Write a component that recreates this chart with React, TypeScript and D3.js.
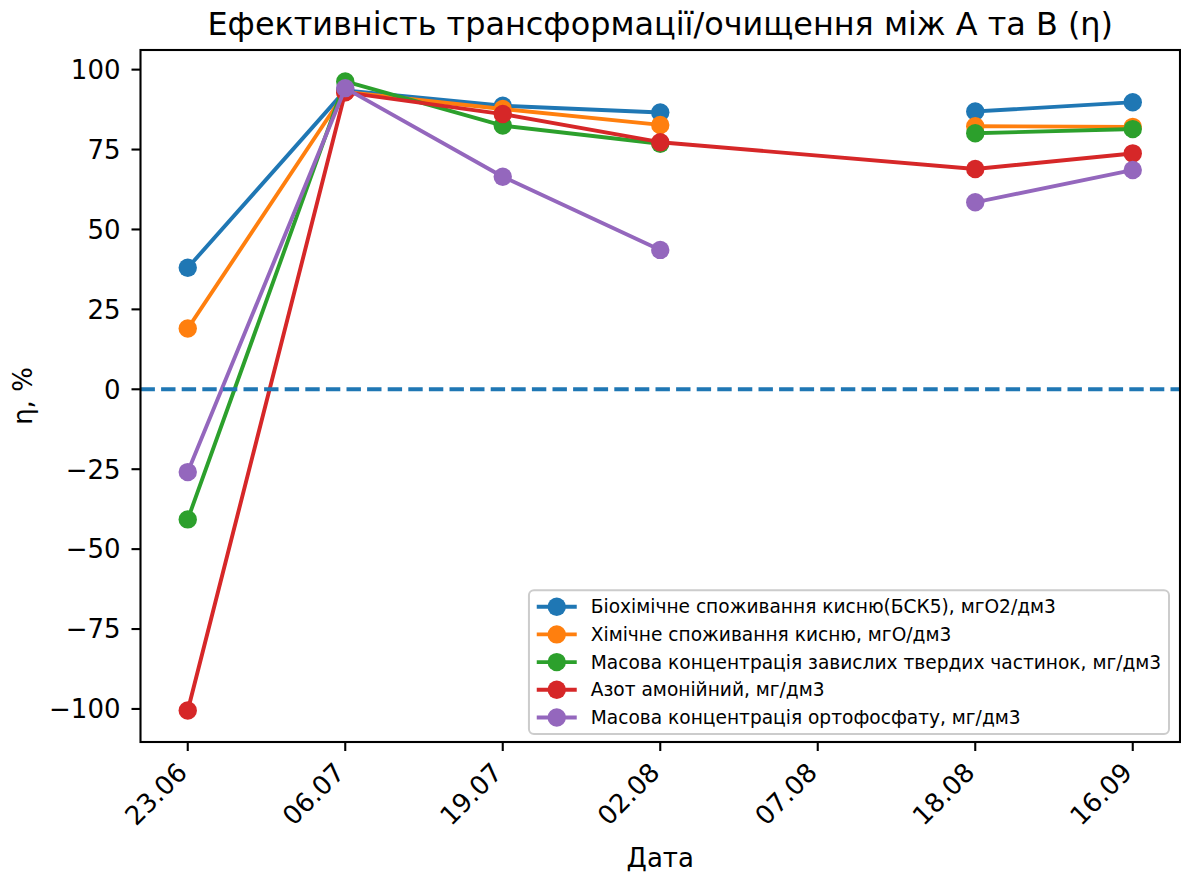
import React, { useRef, useEffect } from 'react';
import * as d3 from 'd3';

// dates on the x axis (07.08 has no values for most series)
const dates = ['23.06', '06.07', '19.07', '02.08', '07.08', '18.08', '16.09'];

const seriesNames = [
    'Біохімічне споживання кисню(БСК5), мгО2/дм3',
    'Хімічне споживання кисню, мгО/дм3',
    'Масова концентрація завислих твердих частинок, мг/дм3',
    'Азот амонійний, мг/дм3',
    'Масова концентрація ортофосфату, мг/дм3',
];

const bod = [38.0, 93.5, 88.7, 86.6, null, 86.9, 89.8];
const cod = [19.0, 93.0, 87.7, 82.7, null, 82.3, 82.1];
const solids = [-40.7, 96.3, 82.5, 76.8, null, 80.1, 81.4];
const ammonia = [-100.5, 92.9, 86.1, 77.3, null, 68.9, 73.8];
const phosphate = [-25.9, 94.2, 66.5, 43.6, null, 58.5, 68.6];

const seriesValues = [bod, cod, solids, ammonia, phosphate];
// the ammonia line is drawn straight over the missing date, the others break there
const connectGaps = [false, false, false, true, false];

const colors = ['#1f77b4', '#ff7f0e', '#2ca02c', '#d62728', '#9467bd'];
const yTicks = [-100, -75, -50, -25, 0, 25, 50, 75, 100];

const titleText = 'Ефективність трансформації/очищення між А та В (η)';
const xLabel = 'Дата';
const yLabel = 'η, %';

const FONT = '"DejaVu Sans", "Noto Sans", sans-serif';

const App = ({ width = 1181, height = 874 }) => {
    const svgRef = useRef(null);

    useEffect(() => {
        const svg = d3.select(svgRef.current);
        svg.selectAll('*').remove();

        const left = 140.5, right = 1180, top = 50, bottom = 742;
        const lw = 3.9;

        const all = seriesValues.flat().filter((v) => v != null);
        const lo = d3.min(all), hi = d3.max(all);
        const m = (hi - lo) * 0.05;

        const x = d3.scalePoint().domain(dates).range([left, right]).padding(0.3);
        const y = d3.scaleLinear().domain([lo - m, hi + m]).range([bottom, top]);

        svg.append('rect').attr('width', width).attr('height', height).attr('fill', 'white');

        const plot = svg.append('g');

        // series
        seriesValues.forEach((vals, i) => {
            const pts = vals.map((v, j) => ({ d: dates[j], v }));
            const used = connectGaps[i] ? pts.filter((p) => p.v != null) : pts;
            const line = d3.line()
                .defined((p) => p.v != null)
                .x((p) => x(p.d))
                .y((p) => y(p.v));
            const g = plot.append('g');
            g.append('path')
                .attr('d', line(used))
                .attr('fill', 'none')
                .attr('stroke', colors[i])
                .attr('stroke-width', lw)
                .attr('stroke-linejoin', 'round')
                .attr('stroke-linecap', 'square');
            g.selectAll('circle')
                .data(pts.filter((p) => p.v != null))
                .enter()
                .append('circle')
                .attr('cx', (p) => x(p.d))
                .attr('cy', (p) => y(p.v))
                .attr('r', 9.2)
                .attr('fill', colors[i]);
        });

        // zero line
        plot.append('line')
            .attr('x1', left).attr('x2', right)
            .attr('y1', y(0)).attr('y2', y(0))
            .attr('stroke', '#1f77b4')
            .attr('stroke-width', lw)
            .attr('stroke-dasharray', '14.4,6.2');

        // frame
        svg.append('rect')
            .attr('x', left).attr('y', top)
            .attr('width', right - left).attr('height', bottom - top)
            .attr('fill', 'none').attr('stroke', 'black').attr('stroke-width', 2.1);

        // y axis
        const yAxis = svg.append('g').attr('font-family', FONT).attr('font-size', 26);
        yTicks.forEach((t) => {
            yAxis.append('line')
                .attr('x1', left - 9).attr('x2', left)
                .attr('y1', y(t)).attr('y2', y(t))
                .attr('stroke', 'black').attr('stroke-width', 2.1);
            yAxis.append('text')
                .attr('x', left - 20).attr('y', y(t))
                .attr('dy', '0.36em')
                .attr('text-anchor', 'end')
                .text(d3.format('d')(t));
        });

        // x axis
        const xAxis = svg.append('g').attr('font-family', FONT).attr('font-size', 26);
        dates.forEach((d) => {
            const px = x(d);
            xAxis.append('line')
                .attr('x1', px).attr('x2', px)
                .attr('y1', bottom).attr('y2', bottom + 9)
                .attr('stroke', 'black').attr('stroke-width', 2.1);
            xAxis.append('text')
                .attr('transform', `translate(${px + 1},${bottom + 32}) rotate(-45)`)
                .attr('text-anchor', 'end')
                .text(d);
        });

        // labels
        svg.append('text')
            .attr('x', (left + right) / 2).attr('y', 34.5)
            .attr('text-anchor', 'middle')
            .attr('font-family', FONT).attr('font-size', 31.9)
            .text(titleText);
        svg.append('text')
            .attr('x', (left + right) / 2).attr('y', 866.5)
            .attr('text-anchor', 'middle')
            .attr('font-family', FONT).attr('font-size', 26)
            .text(xLabel);
        svg.append('text')
            .attr('transform', `translate(32,${(top + bottom) / 2}) rotate(-90)`)
            .attr('text-anchor', 'middle')
            .attr('font-family', FONT).attr('font-size', 26)
            .text(yLabel);

        // legend, lower right
        const fs = 18.6;
        const pad = 7.8;
        const rowH = 27.7;
        const handleW = 40;
        const textGap = 14;
        const legRight = 1169, legBottom = 734;
        const boxH = 2 * pad + (seriesNames.length - 1) * rowH + 17.4;
        const legTop = legBottom - boxH;
        const legend = svg.append('g').attr('font-family', FONT).attr('font-size', fs);
        const frame = legend.append('rect');
        const texts = [];
        seriesNames.forEach((name, i) => {
            const cy = legTop + pad + 8.7 + i * rowH;
            const t = legend.append('text')
                .attr('y', cy).attr('dy', '0.36em')
                .text(name);
            texts.push({ t, cy, i });
        });
        const maxW = d3.max(texts, (o) => o.t.node().getComputedTextLength());
        const legLeft = legRight - (pad + handleW + textGap + maxW + pad);
        frame
            .attr('x', legLeft).attr('y', legTop)
            .attr('width', legRight - legLeft).attr('height', boxH)
            .attr('rx', 5)
            .attr('fill', 'white').attr('fill-opacity', 0.8)
            .attr('stroke', '#cccccc').attr('stroke-width', 2);
        texts.forEach(({ t, cy, i }) => {
            const hx = legLeft + pad;
            t.attr('x', hx + handleW + textGap);
            legend.append('line')
                .attr('x1', hx).attr('x2', hx + handleW)
                .attr('y1', cy).attr('y2', cy)
                .attr('stroke', colors[i]).attr('stroke-width', lw);
            legend.append('circle')
                .attr('cx', hx + handleW / 2).attr('cy', cy)
                .attr('r', 9.2).attr('fill', colors[i]);
        });
    }, [width, height]);

    return (
        <svg
            ref={svgRef}
            width={width}
            height={height}
            style={{ position: 'absolute', left: 0, top: 0 }}
        ></svg>
    );
};

export default App;
